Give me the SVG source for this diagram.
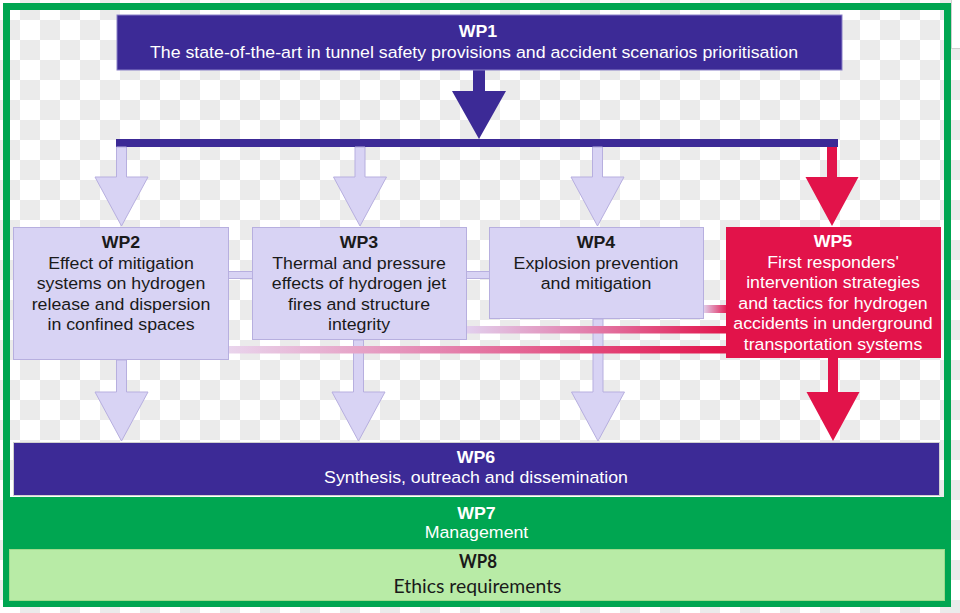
<svg xmlns="http://www.w3.org/2000/svg" width="960" height="613" viewBox="0 0 960 613">
<defs>
<pattern id="cb" width="40" height="40" patternUnits="userSpaceOnUse">
<rect width="40" height="40" fill="#ffffff"/>
<rect x="20" y="0" width="20" height="20" fill="#ebebeb"/>
<rect x="0" y="20" width="20" height="20" fill="#ebebeb"/>
</pattern>
<linearGradient id="g25" gradientUnits="userSpaceOnUse" x1="229" y1="0" x2="726" y2="0">
<stop offset="0" stop-color="#e9d4ec"/>
<stop offset="0.45" stop-color="#e480ac"/>
<stop offset="1" stop-color="#e2134a"/>
</linearGradient>
<linearGradient id="g35" gradientUnits="userSpaceOnUse" x1="467" y1="0" x2="726" y2="0">
<stop offset="0" stop-color="#e2d0ee"/>
<stop offset="0.5" stop-color="#e278a6"/>
<stop offset="1" stop-color="#e2134a"/>
</linearGradient>
<linearGradient id="g45" gradientUnits="userSpaceOnUse" x1="704" y1="0" x2="726" y2="0">
<stop offset="0" stop-color="#e2cce8"/>
<stop offset="1" stop-color="#e2245a"/>
</linearGradient>
</defs>
<style>
.lav{fill:#d8d3f4;stroke:#b7afdf;stroke-width:1}
.pur{fill:#3c2a96}
.red{fill:#e2134a}
.t{font-family:"Liberation Sans",Arial,sans-serif;font-size:16.3px;text-anchor:middle}
.b{font-weight:bold}
.dk{fill:#1a1a1a}
.wh{fill:#ffffff}
.cal{font-family:Lato,"Liberation Sans",sans-serif;font-size:18.5px;text-anchor:middle;fill:#1a1a1a}
</style>
<rect width="960" height="613" fill="url(#cb)"/>
<rect x="951.5" y="-1" width="10" height="49.5" fill="#ffffff" stroke="#cfcfcf" stroke-width="1"/>

<g id="frame">
<rect x="3" y="497" width="948" height="110" fill="#00a651"/>
<rect x="6.5" y="6.5" width="941" height="597" fill="none" stroke="#00a651" stroke-width="7"/>
</g>

<g id="connectors">
<rect x="116" y="139" width="722" height="8" class="pur"/>
<polygon class="pur" points="473,70 485,70 485,91 506,91 479,139 452,91 473,91"/>
<polygon class="lav" points="116.5,147 126.5,147 126.5,177 148,177 121.5,226 95,177 116.5,177"/>
<polygon class="lav" points="355,147 365,147 365,177 386.5,177 360,226 333.5,177 355,177"/>
<polygon class="lav" points="592.5,147 602.5,147 602.5,177 624,177 597.5,226 571,177 592.5,177"/>
<polygon class="red" points="827,147 837,147 837,177 858.5,177 832,226 805.5,177 827,177"/>
<polygon class="lav" points="116.5,360 126.5,360 126.5,392 148,392 121.5,441 95,392 116.5,392"/>
<polygon class="lav" points="353.5,340 363.5,340 363.5,392 385,392 358.5,441 332,392 353.5,392"/>
<polygon class="lav" points="593,319 603,319 603,392 624.5,392 598,441 571.5,392 593,392"/>
<polygon class="red" points="828,358 838,358 838,392 859.5,392 833,441 806.5,392 828,392"/>
<rect class="lav" x="228.5" y="271.5" width="24" height="7"/>
<rect class="lav" x="466.5" y="271.5" width="23" height="7"/>
<rect x="704" y="305" width="23" height="8" fill="url(#g45)"/>
<rect x="467" y="326" width="260" height="7.5" fill="url(#g35)"/>
<rect x="229" y="346" width="498" height="7.5" fill="url(#g25)"/>
</g>

<g id="wp1">
<rect x="117" y="15" width="725" height="55" class="pur" stroke="#8a80c8" stroke-width="1"/>
<g transform="translate(478 0) scale(1.09 1)"><text class="t b wh" x="0" y="37">WP1</text></g>
<g transform="translate(474 0) scale(1.09 1)"><text class="t wh" x="0" y="58">The state-of-the-art in tunnel safety provisions and accident scenarios prioritisation</text></g>
</g>

<g id="wp2">
<rect x="13.5" y="227.5" width="215" height="132" class="lav"/>
<g transform="translate(121 0) scale(1.09 1)">
<text class="t b dk" x="0" y="248">WP2</text>
<text class="t dk" x="0" y="269">Effect of mitigation</text>
<text class="t dk" x="0" y="289.5">systems on hydrogen</text>
<text class="t dk" x="0" y="310">release and dispersion</text>
<text class="t dk" x="0" y="330.5">in confined spaces</text>
</g>
</g>

<g id="wp3">
<rect x="252.5" y="227.5" width="214" height="112" class="lav"/>
<g transform="translate(359 0) scale(1.09 1)">
<text class="t b dk" x="0" y="248">WP3</text>
<text class="t dk" x="0" y="269">Thermal and pressure</text>
<text class="t dk" x="0" y="289.5">effects of hydrogen jet</text>
<text class="t dk" x="0" y="310">fires and structure</text>
<text class="t dk" x="0" y="330.5">integrity</text>
</g>
</g>

<g id="wp4">
<rect x="489.5" y="227.5" width="214" height="91" class="lav"/>
<g transform="translate(596 0) scale(1.09 1)">
<text class="t b dk" x="0" y="248">WP4</text>
<text class="t dk" x="0" y="269">Explosion prevention</text>
<text class="t dk" x="0" y="289">and mitigation</text>
</g>
</g>

<g id="wp5">
<rect x="726" y="227" width="215" height="131" class="red"/>
<g transform="translate(833 0) scale(1.09 1)">
<text class="t b wh" x="0" y="247">WP5</text>
<text class="t wh" x="0" y="268">First responders'</text>
<text class="t wh" x="0" y="288.5">intervention strategies</text>
<text class="t wh" x="0" y="309">and tactics for hydrogen</text>
<text class="t wh" x="0" y="329.5">accidents in underground</text>
<text class="t wh" x="0" y="350">transportation systems</text>
</g>
</g>

<g id="wp6">
<rect x="13.5" y="442.5" width="926" height="53" class="pur" stroke="#d0d0d0" stroke-width="1"/>
<g transform="translate(476 0) scale(1.09 1)">
<text class="t b wh" x="0" y="463.5">WP6</text>
<text class="t wh" x="0" y="483.5">Synthesis, outreach and dissemination</text>
</g>
</g>

<g id="wp7">
<g transform="translate(476.5 0) scale(1.09 1)">
<text class="t b wh" x="0" y="519">WP7</text>
<text class="t wh" x="0" y="538.5">Management</text>
</g>
</g>

<g id="wp8">
<rect x="9.5" y="549.5" width="935" height="51" fill="#b8eba6" stroke="#9edb8c" stroke-width="1"/>
<text class="cal" x="478" y="567.5" font-weight="bold" textLength="38" lengthAdjust="spacingAndGlyphs">WP8</text>
<text class="cal" x="477.5" y="593" textLength="168" lengthAdjust="spacingAndGlyphs">Ethics requirements</text>
</g>
</svg>
